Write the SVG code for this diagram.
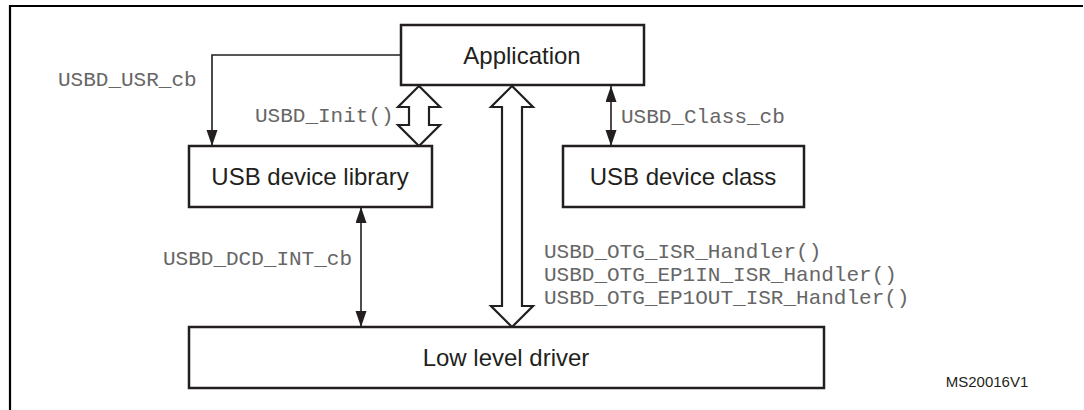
<svg xmlns="http://www.w3.org/2000/svg" width="1084" height="410" viewBox="0 0 1084 410">
<style>
.box{fill:#fff;stroke:#231f20;stroke-width:2.5}
.lbl{font-family:"Liberation Sans",Arial,sans-serif;font-size:24px;fill:#231f20;text-anchor:middle}
.code{font-family:"Liberation Mono","Courier New",monospace;font-size:21px;fill:#666}
.thin{fill:none;stroke:#231f20;stroke-width:1.6}
.hollow{fill:#fff;stroke:#231f20;stroke-width:2.2;stroke-linejoin:miter}
.frame{fill:none;stroke:#000;stroke-width:2.2}
</style>
<defs>
<marker id="ah" markerUnits="userSpaceOnUse" markerWidth="17" markerHeight="12" refX="16" refY="5.5" orient="auto-start-reverse" viewBox="0 0 17 12">
<path d="M0,0 L16,5.5 L0,11 z" fill="#231f20"/>
</marker>
</defs>
<rect width="1084" height="410" fill="#fff"/>
<path class="frame" d="M10,410 L10,6 L1083,6"/>

<g id="connectors">
<polyline class="thin" points="401,55 212,55 212,146" marker-end="url(#ah)"/>
<line class="thin" x1="611" y1="86" x2="611" y2="146" marker-start="url(#ah)" marker-end="url(#ah)"/>
<line class="thin" x1="361" y1="207" x2="361" y2="327" marker-start="url(#ah)" marker-end="url(#ah)"/>
<polygon class="hollow" points="419,86 440,107 429,107 429,125 440,125 419,146 398,125 409,125 409,107 398,107"/>
<polygon class="hollow" points="512,86 533,107 522,107 522,306 533,306 512,327 491,306 502,306 502,107 491,107"/>
<text class="code" x="58" y="86">USBD_USR_cb</text>
<text class="code" x="255" y="122">USBD_Init()</text>
<text class="code" x="621" y="123">USBD_Class_cb</text>
<text class="code" x="163" y="265">USBD_DCD_INT_cb</text>
<text class="code" x="544" y="258">USBD_OTG_ISR_Handler()</text>
<text class="code" x="544" y="281">USBD_OTG_EP1IN_ISR_Handler()</text>
<text class="code" x="544" y="304">USBD_OTG_EP1OUT_ISR_Handler()</text>
</g>

<g id="application">
<rect class="box" x="401" y="25" width="243" height="60"/>
<text class="lbl" x="522" y="63.5">Application</text>
</g>
<g id="usb-device-library">
<rect class="box" x="189" y="146" width="243" height="61"/>
<text class="lbl" x="310" y="185">USB device library</text>
</g>
<g id="usb-device-class">
<rect class="box" x="563" y="146" width="241" height="61"/>
<text class="lbl" x="683" y="185">USB device class</text>
</g>
<g id="low-level-driver">
<rect class="box" x="189" y="327" width="635" height="61"/>
<text class="lbl" x="506" y="366">Low level driver</text>
</g>
<text x="987" y="387" font-family="'Liberation Sans',Arial,sans-serif" font-size="15" fill="#231f20" text-anchor="middle">MS20016V1</text>
</svg>
